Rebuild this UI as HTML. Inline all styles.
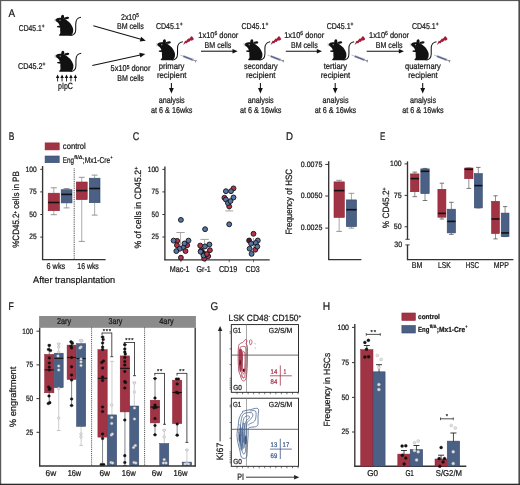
<!DOCTYPE html><html><head><meta charset="utf-8"><title>Figure</title><style>html,body{margin:0;padding:0;background:#fff;}svg{display:block;font-family:"Liberation Sans",sans-serif;will-change:transform;}text{stroke-width:0.24;text-rendering:geometricPrecision;}</style></head><body>
<svg width="520" height="485" viewBox="0 0 520 485">
<defs>
<g id="mouse"><path d="M0.4,4.9 C1.2,3.9 2.6,3.1 4.4,3.0 C6.5,2.9 8.5,3.5 9.9,4.3 C11,5 12,5.6 13,6.4 C14.8,7.6 16,9.2 16.7,10.7 C17.6,12.3 18.2,13.6 18.2,15.0 C18.3,16.5 18.1,17.8 17.6,18.7 C17.1,19.7 16.4,20.5 15.5,20.9 L4.6,20.9 C3.9,20.9 3.7,20.3 4.1,20.0 C4.7,19.5 5.2,18.9 5.3,18.1 C5.4,17.1 5.1,16.1 5.1,15.05 C5.1,14.2 5.2,13.5 5.3,12.9 L2.4,12.5 C1.8,12.3 1.8,11.3 2.4,11.2 L4.7,10.9 C4.4,10.2 4.1,9.5 3.8,8.9 C3.4,8.3 3.0,7.8 2.5,7.4 C1.9,7.0 1.2,6.6 0.9,6.1 C0.6,5.7 0.3,5.3 0.4,4.9 Z" fill="#111"/><path d="M6.2,3.9 C5.7,2.2 6.1,0.2 7.6,0.0 C9.1,0.0 9.4,1.8 8.9,3.9 Z" fill="#111"/><ellipse cx="11.5" cy="3.3" rx="2.6" ry="1.2" transform="rotate(-8 11.5 3.3)" fill="#111"/><circle cx="5.0" cy="5.4" r="0.6" fill="#bbb"/><path d="M1.2,5.0 L-0.8,4.0 M1.2,5.4 L-0.9,5.5 M1.3,5.8 L-0.5,6.8" stroke="#777" stroke-width="0.3"/><path d="M15.2,20.8 C17.5,20.7 19.3,19.8 20.3,17.5 C21.0,15.5 20.8,12.5 20.7,10 C20.6,7.5 21.0,5.4 22.2,4.2 C23.2,3.2 24.8,2.6 26.0,2.4" fill="none" stroke="#111" stroke-width="1.05"/></g>
<g id="irr"><path d="M26.3,5.9 L28.3,1.6 L29.3,2.0 L31.4,-0.7 L32.4,-0.3 L34.4,-2.9 L35.4,-2.7 L37.1,-0.2 L36.3,0.9 L34.7,1.6 L33.9,1.2 L32.3,3.0 L31.3,2.6 L29.8,4.3 L28.9,3.9 Z" fill="#a41d38"/><g transform="translate(23.4,15.9) rotate(21)"><line x1="0" y1="0" x2="3.4" y2="0" stroke="#9aa0ad" stroke-width="0.6"/><rect x="3.4" y="-0.8" width="9.8" height="1.6" fill="#4f5c8c" stroke="#9aa0ae" stroke-width="0.35"/><line x1="13.2" y1="0" x2="16.6" y2="0" stroke="#7d8494" stroke-width="0.9"/><line x1="16.8" y1="-1.3" x2="16.8" y2="1.3" stroke="#6f7686" stroke-width="0.9"/><line x1="13.3" y1="-1.3" x2="13.3" y2="1.3" stroke="#8d93a2" stroke-width="0.6"/></g></g>
</defs>
<rect x="0" y="0" width="520" height="485" fill="#fff"/>
<text x="8.4" y="16.6" font-size="11.2" textLength="6.6" lengthAdjust="spacingAndGlyphs" fill="#1a1a1a" stroke="#1a1a1a">A</text>
<text x="18.8" y="30.8" font-size="8.5" textLength="25.8" lengthAdjust="spacingAndGlyphs" fill="#1a1a1a" stroke="#1a1a1a">CD45.1<tspan dy="-3" font-size="6">+</tspan></text>
<text x="18" y="69.2" font-size="8.5" textLength="27.6" lengthAdjust="spacingAndGlyphs" fill="#1a1a1a" stroke="#1a1a1a">CD45.2<tspan dy="-3" font-size="6">+</tspan></text>
<use href="#mouse" x="55.0" y="14.8"/>
<use href="#mouse" x="55.2" y="50.8"/>
<line x1="57.6" y1="81.4" x2="57.6" y2="77.5" stroke="#111" stroke-width="0.9"/>
<path d="M57.6,74.4 L55.85,78 L59.35,78 Z" fill="#111"/>
<line x1="62.05" y1="81.4" x2="62.05" y2="77.5" stroke="#111" stroke-width="0.9"/>
<path d="M62.05,74.4 L60.3,78 L63.8,78 Z" fill="#111"/>
<line x1="66.5" y1="81.4" x2="66.5" y2="77.5" stroke="#111" stroke-width="0.9"/>
<path d="M66.5,74.4 L64.75,78 L68.25,78 Z" fill="#111"/>
<line x1="70.95" y1="81.4" x2="70.95" y2="77.5" stroke="#111" stroke-width="0.9"/>
<path d="M70.95,74.4 L69.2,78 L72.7,78 Z" fill="#111"/>
<line x1="75.4" y1="81.4" x2="75.4" y2="77.5" stroke="#111" stroke-width="0.9"/>
<path d="M75.4,74.4 L73.65,78 L77.15,78 Z" fill="#111"/>
<text x="58" y="89" font-size="9" textLength="14.9" lengthAdjust="spacingAndGlyphs" fill="#1a1a1a" stroke="#1a1a1a">pIpC</text>
<line x1="93.3" y1="25.8" x2="140.89" y2="39.31" stroke="#111" stroke-width="1.05"/>
<path d="M145.8,40.7 L139.76,41.48 L141.07,36.86 Z" fill="#111"/>
<line x1="92.3" y1="65.4" x2="140.31" y2="55.07" stroke="#111" stroke-width="1.05"/>
<path d="M145.3,54 L140.33,57.52 L139.32,52.83 Z" fill="#111"/>
<text x="121" y="20" font-size="8.5" textLength="17.8" lengthAdjust="spacingAndGlyphs" fill="#1a1a1a" stroke="#1a1a1a">2x10<tspan dy="-2.8" font-size="5.8">5</tspan></text>
<text x="117" y="29.2" font-size="8.5" textLength="26.7" lengthAdjust="spacingAndGlyphs" fill="#1a1a1a" stroke="#1a1a1a">BM cells</text>
<text x="110.6" y="71.4" font-size="8.5" textLength="39.8" lengthAdjust="spacingAndGlyphs" fill="#1a1a1a" stroke="#1a1a1a">5x10<tspan dy="-2.8" font-size="5.8">5</tspan><tspan dy="2.8"> donor</tspan></text>
<text x="117.2" y="80.8" font-size="8.5" textLength="26.7" lengthAdjust="spacingAndGlyphs" fill="#1a1a1a" stroke="#1a1a1a">BM cells</text>
<use href="#mouse" x="156.8" y="39.3"/>
<use href="#irr" x="156.8" y="39.1"/>
<text x="155.9" y="28.6" font-size="8.5" textLength="26.8" lengthAdjust="spacingAndGlyphs" fill="#1a1a1a" stroke="#1a1a1a">CD45.1<tspan dy="-3" font-size="6">+</tspan></text>
<text x="158.8" y="68.7" font-size="8.5" textLength="25.6" lengthAdjust="spacingAndGlyphs" fill="#1a1a1a" stroke="#1a1a1a">primary</text>
<text x="156.9" y="78.3" font-size="8.5" textLength="29.6" lengthAdjust="spacingAndGlyphs" fill="#1a1a1a" stroke="#1a1a1a">recipient</text>
<line x1="171.4" y1="83" x2="171.4" y2="88.5" stroke="#111" stroke-width="1.05"/>
<path d="M171.4,93.4 L169,88 L173.8,88 Z" fill="#111"/>
<text x="158.7" y="103.2" font-size="8.5" textLength="26" lengthAdjust="spacingAndGlyphs" fill="#1a1a1a" stroke="#1a1a1a">analysis</text>
<text x="151" y="112.5" font-size="8.5" textLength="41.4" lengthAdjust="spacingAndGlyphs" fill="#1a1a1a" stroke="#1a1a1a">at 6 &amp; 16wks</text>
<use href="#mouse" x="244.2" y="39.3"/>
<use href="#irr" x="244.2" y="39.1"/>
<text x="241.5" y="28.6" font-size="8.5" textLength="26.8" lengthAdjust="spacingAndGlyphs" fill="#1a1a1a" stroke="#1a1a1a">CD45.1<tspan dy="-3" font-size="6">+</tspan></text>
<text x="244.05" y="68.7" font-size="8.5" textLength="33.7" lengthAdjust="spacingAndGlyphs" fill="#1a1a1a" stroke="#1a1a1a">secondary</text>
<text x="245.9" y="78.3" font-size="8.5" textLength="29.6" lengthAdjust="spacingAndGlyphs" fill="#1a1a1a" stroke="#1a1a1a">recipient</text>
<line x1="260.4" y1="83" x2="260.4" y2="88.5" stroke="#111" stroke-width="1.05"/>
<path d="M260.4,93.4 L258,88 L262.8,88 Z" fill="#111"/>
<text x="247.7" y="103.2" font-size="8.5" textLength="26" lengthAdjust="spacingAndGlyphs" fill="#1a1a1a" stroke="#1a1a1a">analysis</text>
<text x="240" y="112.5" font-size="8.5" textLength="41.4" lengthAdjust="spacingAndGlyphs" fill="#1a1a1a" stroke="#1a1a1a">at 6 &amp; 16wks</text>
<use href="#mouse" x="328.2" y="39.3"/>
<use href="#irr" x="328.2" y="39.1"/>
<text x="326.7" y="28.6" font-size="8.5" textLength="26.8" lengthAdjust="spacingAndGlyphs" fill="#1a1a1a" stroke="#1a1a1a">CD45.1<tspan dy="-3" font-size="6">+</tspan></text>
<text x="323.65" y="68.7" font-size="8.5" textLength="23.5" lengthAdjust="spacingAndGlyphs" fill="#1a1a1a" stroke="#1a1a1a">tertiary</text>
<text x="320.7" y="78.3" font-size="8.5" textLength="29.6" lengthAdjust="spacingAndGlyphs" fill="#1a1a1a" stroke="#1a1a1a">recipient</text>
<line x1="335.2" y1="83" x2="335.2" y2="88.5" stroke="#111" stroke-width="1.05"/>
<path d="M335.2,93.4 L332.8,88 L337.6,88 Z" fill="#111"/>
<text x="322.5" y="103.2" font-size="8.5" textLength="26" lengthAdjust="spacingAndGlyphs" fill="#1a1a1a" stroke="#1a1a1a">analysis</text>
<text x="314.8" y="112.5" font-size="8.5" textLength="41.4" lengthAdjust="spacingAndGlyphs" fill="#1a1a1a" stroke="#1a1a1a">at 6 &amp; 16wks</text>
<use href="#mouse" x="410.5" y="39.3"/>
<use href="#irr" x="410.5" y="39.1"/>
<text x="411.9" y="28.6" font-size="8.5" textLength="26.8" lengthAdjust="spacingAndGlyphs" fill="#1a1a1a" stroke="#1a1a1a">CD45.1<tspan dy="-3" font-size="6">+</tspan></text>
<text x="405" y="68.7" font-size="8.5" textLength="35.8" lengthAdjust="spacingAndGlyphs" fill="#1a1a1a" stroke="#1a1a1a">quaternary</text>
<text x="408.2" y="78.3" font-size="8.5" textLength="29.6" lengthAdjust="spacingAndGlyphs" fill="#1a1a1a" stroke="#1a1a1a">recipient</text>
<line x1="422.7" y1="83" x2="422.7" y2="88.5" stroke="#111" stroke-width="1.05"/>
<path d="M422.7,93.4 L420.3,88 L425.1,88 Z" fill="#111"/>
<text x="410" y="103.2" font-size="8.5" textLength="26" lengthAdjust="spacingAndGlyphs" fill="#1a1a1a" stroke="#1a1a1a">analysis</text>
<text x="402.3" y="112.5" font-size="8.5" textLength="41.4" lengthAdjust="spacingAndGlyphs" fill="#1a1a1a" stroke="#1a1a1a">at 6 &amp; 16wks</text>
<text x="198.3" y="37.8" font-size="8.5" textLength="40" lengthAdjust="spacingAndGlyphs" fill="#1a1a1a" stroke="#1a1a1a">1x10<tspan dy="-2.8" font-size="5.8">6</tspan><tspan dy="2.8"> donor</tspan></text>
<text x="204.6" y="47.5" font-size="8.5" textLength="26.7" lengthAdjust="spacingAndGlyphs" fill="#1a1a1a" stroke="#1a1a1a">BM cells</text>
<line x1="201" y1="51.2" x2="233" y2="51.2" stroke="#111" stroke-width="1.05"/>
<path d="M237.7,51.2 L232.5,48.9 L232.5,53.5 Z" fill="#111"/>
<text x="284.2" y="37.8" font-size="8.5" textLength="40" lengthAdjust="spacingAndGlyphs" fill="#1a1a1a" stroke="#1a1a1a">1x10<tspan dy="-2.8" font-size="5.8">6</tspan><tspan dy="2.8"> donor</tspan></text>
<text x="291" y="47.5" font-size="8.5" textLength="26.7" lengthAdjust="spacingAndGlyphs" fill="#1a1a1a" stroke="#1a1a1a">BM cells</text>
<line x1="285.8" y1="51.2" x2="317.3" y2="51.2" stroke="#111" stroke-width="1.05"/>
<path d="M322,51.2 L316.8,48.9 L316.8,53.5 Z" fill="#111"/>
<text x="369" y="37.8" font-size="8.5" textLength="40" lengthAdjust="spacingAndGlyphs" fill="#1a1a1a" stroke="#1a1a1a">1x10<tspan dy="-2.8" font-size="5.8">6</tspan><tspan dy="2.8"> donor</tspan></text>
<text x="375.8" y="47.5" font-size="8.5" textLength="26.7" lengthAdjust="spacingAndGlyphs" fill="#1a1a1a" stroke="#1a1a1a">BM cells</text>
<line x1="366.7" y1="51.2" x2="399.3" y2="51.2" stroke="#111" stroke-width="1.05"/>
<path d="M404,51.2 L398.8,48.9 L398.8,53.5 Z" fill="#111"/>
<text x="8.7" y="139.5" font-size="11.2" textLength="5.6" lengthAdjust="spacingAndGlyphs" fill="#1a1a1a" stroke="#1a1a1a">B</text>
<rect x="45.1" y="142.9" width="14.1" height="7" fill="#a13444" stroke="#8c1f33" stroke-width="0.6"/>
<rect x="45.1" y="156" width="14.1" height="6.7" fill="#4a6084" stroke="#34496b" stroke-width="0.6"/>
<text x="62.8" y="148.8" font-size="8.5" textLength="23" lengthAdjust="spacingAndGlyphs" fill="#1a1a1a" stroke="#1a1a1a">control</text>
<text x="62.8" y="162.5" font-size="8.5" textLength="11.2" lengthAdjust="spacingAndGlyphs" fill="#1a1a1a" stroke="#1a1a1a">Eng</text>
<text x="74.3" y="159.2" font-size="5.27" textLength="8.3" lengthAdjust="spacingAndGlyphs" fill="#1a1a1a" stroke="#1a1a1a">fl/&#916;</text>
<text x="82.8" y="162.5" font-size="8.5" textLength="27.3" lengthAdjust="spacingAndGlyphs" fill="#1a1a1a" stroke="#1a1a1a">;Mx1-Cre</text>
<text x="110.4" y="159.2" font-size="5.27" textLength="2" lengthAdjust="spacingAndGlyphs" fill="#1a1a1a" stroke="#1a1a1a">+</text>
<line x1="42.6" y1="166" x2="42.6" y2="260.1" stroke="#333" stroke-width="1.35"/>
<line x1="42.1" y1="259.6" x2="105.6" y2="259.6" stroke="#333" stroke-width="1.35"/>
<line x1="40.3" y1="169.3" x2="42.6" y2="169.3" stroke="#333" stroke-width="1"/>
<text x="36.7" y="171.6" font-size="7.8" textLength="11.1" lengthAdjust="spacingAndGlyphs" text-anchor="end" fill="#1a1a1a" stroke="#1a1a1a">100</text>
<line x1="40.3" y1="191.9" x2="42.6" y2="191.9" stroke="#333" stroke-width="1"/>
<text x="36.7" y="194.2" font-size="7.8" textLength="7.4" lengthAdjust="spacingAndGlyphs" text-anchor="end" fill="#1a1a1a" stroke="#1a1a1a">75</text>
<line x1="40.3" y1="214.5" x2="42.6" y2="214.5" stroke="#333" stroke-width="1"/>
<text x="36.7" y="216.8" font-size="7.8" textLength="7.4" lengthAdjust="spacingAndGlyphs" text-anchor="end" fill="#1a1a1a" stroke="#1a1a1a">50</text>
<line x1="40.3" y1="237.1" x2="42.6" y2="237.1" stroke="#333" stroke-width="1"/>
<text x="36.7" y="239.4" font-size="7.8" textLength="7.4" lengthAdjust="spacingAndGlyphs" text-anchor="end" fill="#1a1a1a" stroke="#1a1a1a">25</text>
<line x1="74.2" y1="168.4" x2="74.2" y2="259.6" stroke="#222" stroke-width="0.9" stroke-dasharray="0.9 0.9"/>
<line x1="53.8" y1="187.8" x2="53.8" y2="193.2" stroke="#7c7c7c" stroke-width="0.65"/>
<line x1="53.8" y1="210.7" x2="53.8" y2="214.7" stroke="#7c7c7c" stroke-width="0.65"/>
<line x1="50.72" y1="187.8" x2="56.88" y2="187.8" stroke="#7c7c7c" stroke-width="0.8"/>
<line x1="50.72" y1="214.7" x2="56.88" y2="214.7" stroke="#7c7c7c" stroke-width="0.8"/>
<rect x="48.2" y="193.2" width="11.2" height="17.5" fill="#a13444" stroke="#8c1f33" stroke-width="0.6"/>
<line x1="48.2" y1="202.5" x2="59.4" y2="202.5" stroke="#111" stroke-width="1.6"/>
<line x1="66.6" y1="188.5" x2="66.6" y2="189.7" stroke="#7c7c7c" stroke-width="0.65"/>
<line x1="66.6" y1="202.9" x2="66.6" y2="207.9" stroke="#7c7c7c" stroke-width="0.65"/>
<line x1="63.63" y1="188.5" x2="69.57" y2="188.5" stroke="#7c7c7c" stroke-width="0.8"/>
<line x1="63.63" y1="207.9" x2="69.57" y2="207.9" stroke="#7c7c7c" stroke-width="0.8"/>
<rect x="61.2" y="189.7" width="10.8" height="13.2" fill="#4a6084" stroke="#34496b" stroke-width="0.6"/>
<line x1="61.2" y1="194.4" x2="72" y2="194.4" stroke="#111" stroke-width="1.6"/>
<line x1="81.75" y1="177.3" x2="81.75" y2="182" stroke="#7c7c7c" stroke-width="0.65"/>
<line x1="81.75" y1="199.6" x2="81.75" y2="241.4" stroke="#7c7c7c" stroke-width="0.65"/>
<line x1="78.75" y1="177.3" x2="84.75" y2="177.3" stroke="#7c7c7c" stroke-width="0.8"/>
<line x1="78.75" y1="241.4" x2="84.75" y2="241.4" stroke="#7c7c7c" stroke-width="0.8"/>
<rect x="76.3" y="182" width="10.9" height="17.6" fill="#a13444" stroke="#8c1f33" stroke-width="0.6"/>
<line x1="76.3" y1="190.6" x2="87.2" y2="190.6" stroke="#111" stroke-width="1.6"/>
<line x1="94.65" y1="175.1" x2="94.65" y2="178.2" stroke="#7c7c7c" stroke-width="0.65"/>
<line x1="94.65" y1="202.7" x2="94.65" y2="215.1" stroke="#7c7c7c" stroke-width="0.65"/>
<line x1="91.71" y1="175.1" x2="97.59" y2="175.1" stroke="#7c7c7c" stroke-width="0.8"/>
<line x1="91.71" y1="215.1" x2="97.59" y2="215.1" stroke="#7c7c7c" stroke-width="0.8"/>
<rect x="89.3" y="178.2" width="10.7" height="24.5" fill="#4a6084" stroke="#34496b" stroke-width="0.6"/>
<line x1="89.3" y1="188.5" x2="100" y2="188.5" stroke="#111" stroke-width="1.6"/>
<text x="46.5" y="269.2" font-size="8.5" textLength="18.7" lengthAdjust="spacingAndGlyphs" fill="#1a1a1a" stroke="#1a1a1a">6 wks</text>
<text x="77.3" y="269.2" font-size="8.5" textLength="21.5" lengthAdjust="spacingAndGlyphs" fill="#1a1a1a" stroke="#1a1a1a">16 wks</text>
<text x="33.1" y="282.7" font-size="9.3" textLength="82.1" lengthAdjust="spacingAndGlyphs" fill="#1a1a1a" stroke="#1a1a1a">After transplantation</text>
<text transform="translate(19.3,209.5) rotate(-90)" x="0" y="0" font-size="9.2" text-anchor="middle" textLength="76.6" lengthAdjust="spacingAndGlyphs" fill="#1a1a1a" stroke="#1a1a1a">%CD45.2<tspan dy="-2.8" font-size="5">+</tspan><tspan dy="2.8"> cells in PB</tspan></text>
<text x="132.7" y="139.5" font-size="11.2" textLength="6.5" lengthAdjust="spacingAndGlyphs" fill="#1a1a1a" stroke="#1a1a1a">C</text>
<line x1="164.9" y1="166.5" x2="164.9" y2="260.3" stroke="#333" stroke-width="1.35"/>
<line x1="164.4" y1="259.8" x2="269.7" y2="259.8" stroke="#333" stroke-width="1.35"/>
<line x1="162.4" y1="169.4" x2="164.9" y2="169.4" stroke="#333" stroke-width="1"/>
<text x="158.8" y="171.7" font-size="7.8" textLength="11.1" lengthAdjust="spacingAndGlyphs" text-anchor="end" fill="#1a1a1a" stroke="#1a1a1a">100</text>
<line x1="162.4" y1="191.9" x2="164.9" y2="191.9" stroke="#333" stroke-width="1"/>
<text x="158.8" y="194.2" font-size="7.8" textLength="7.2" lengthAdjust="spacingAndGlyphs" text-anchor="end" fill="#1a1a1a" stroke="#1a1a1a">75</text>
<line x1="162.4" y1="214.5" x2="164.9" y2="214.5" stroke="#333" stroke-width="1"/>
<text x="158.8" y="216.8" font-size="7.8" textLength="7.2" lengthAdjust="spacingAndGlyphs" text-anchor="end" fill="#1a1a1a" stroke="#1a1a1a">50</text>
<line x1="162.4" y1="237" x2="164.9" y2="237" stroke="#333" stroke-width="1"/>
<text x="158.8" y="239.3" font-size="7.8" textLength="7.2" lengthAdjust="spacingAndGlyphs" text-anchor="end" fill="#1a1a1a" stroke="#1a1a1a">25</text>
<line x1="180.9" y1="259.8" x2="180.9" y2="262.2" stroke="#333" stroke-width="0.7"/>
<line x1="205.1" y1="259.8" x2="205.1" y2="262.2" stroke="#333" stroke-width="0.7"/>
<line x1="229.2" y1="259.8" x2="229.2" y2="262.2" stroke="#333" stroke-width="0.7"/>
<line x1="253.5" y1="259.8" x2="253.5" y2="262.2" stroke="#333" stroke-width="0.7"/>
<text transform="translate(141.2,207.7) rotate(-90)" x="0" y="0" font-size="9.2" text-anchor="middle" textLength="81.8" lengthAdjust="spacingAndGlyphs" fill="#1a1a1a" stroke="#1a1a1a">% of cells in CD45.2<tspan dy="-3" font-size="5.5">+</tspan></text>
<text x="169.7" y="271.7" font-size="8.5" textLength="19.9" lengthAdjust="spacingAndGlyphs" fill="#1a1a1a" stroke="#1a1a1a">Mac-1</text>
<text x="196.5" y="271.7" font-size="8.5" textLength="14.3" lengthAdjust="spacingAndGlyphs" fill="#1a1a1a" stroke="#1a1a1a">Gr-1</text>
<text x="218.9" y="271.7" font-size="8.5" textLength="18.5" lengthAdjust="spacingAndGlyphs" fill="#1a1a1a" stroke="#1a1a1a">CD19</text>
<text x="245.5" y="271.7" font-size="8.5" textLength="14.3" lengthAdjust="spacingAndGlyphs" fill="#1a1a1a" stroke="#1a1a1a">CD3</text>
<line x1="180.55" y1="232.5" x2="180.55" y2="246" stroke="#9a9a9a" stroke-width="0.8"/>
<line x1="176.35" y1="232.5" x2="184.75" y2="232.5" stroke="#9a9a9a" stroke-width="0.9"/>
<line x1="204.6" y1="239.4" x2="204.6" y2="250" stroke="#9a9a9a" stroke-width="0.8"/>
<line x1="200.4" y1="239.4" x2="208.8" y2="239.4" stroke="#9a9a9a" stroke-width="0.9"/>
<line x1="229.2" y1="199" x2="229.2" y2="210.9" stroke="#9a9a9a" stroke-width="0.8"/>
<line x1="225.3" y1="210.9" x2="233.1" y2="210.9" stroke="#9a9a9a" stroke-width="0.9"/>
<line x1="253.5" y1="238" x2="253.5" y2="247" stroke="#9a9a9a" stroke-width="0.8"/>
<circle cx="177.2" cy="240.9" r="2.45" fill="#b3344c" stroke="#111" stroke-width="0.9"/>
<circle cx="180.9" cy="219.9" r="2.45" fill="#5674a6" stroke="#111" stroke-width="0.9"/>
<circle cx="173.6" cy="240.6" r="2.45" fill="#5674a6" stroke="#111" stroke-width="0.9"/>
<circle cx="187.2" cy="245.2" r="2.45" fill="#b3344c" stroke="#111" stroke-width="0.9"/>
<circle cx="188.5" cy="240.6" r="2.45" fill="#5674a6" stroke="#111" stroke-width="0.9"/>
<circle cx="176.9" cy="245.2" r="2.45" fill="#b3344c" stroke="#111" stroke-width="0.9"/>
<circle cx="184.5" cy="243.5" r="2.45" fill="#5674a6" stroke="#111" stroke-width="0.9"/>
<circle cx="183.2" cy="247.8" r="2.45" fill="#5674a6" stroke="#111" stroke-width="0.9"/>
<circle cx="179.6" cy="248.8" r="2.45" fill="#5674a6" stroke="#111" stroke-width="0.9"/>
<circle cx="176.3" cy="251.1" r="2.45" fill="#5674a6" stroke="#111" stroke-width="0.9"/>
<circle cx="185.5" cy="251.1" r="2.45" fill="#b3344c" stroke="#111" stroke-width="0.9"/>
<circle cx="180.9" cy="257.7" r="2.45" fill="#b3344c" stroke="#111" stroke-width="0.9"/>
<circle cx="205.1" cy="229.2" r="2.45" fill="#5674a6" stroke="#111" stroke-width="0.9"/>
<circle cx="204.2" cy="258.6" r="2.45" fill="#b3344c" stroke="#111" stroke-width="0.9"/>
<circle cx="203" cy="253" r="2.45" fill="#5a1a2c" stroke="#111" stroke-width="0.9"/>
<circle cx="208.2" cy="256.2" r="2.45" fill="#b3344c" stroke="#111" stroke-width="0.9"/>
<circle cx="203.5" cy="255.5" r="2.45" fill="#5674a6" stroke="#111" stroke-width="0.9"/>
<circle cx="206.9" cy="254" r="2.45" fill="#b3344c" stroke="#111" stroke-width="0.9"/>
<circle cx="201.2" cy="250.6" r="2.45" fill="#5a1a2c" stroke="#111" stroke-width="0.9"/>
<circle cx="200.6" cy="251.7" r="2.45" fill="#5674a6" stroke="#111" stroke-width="0.9"/>
<circle cx="209.9" cy="250.2" r="2.45" fill="#b3344c" stroke="#111" stroke-width="0.9"/>
<circle cx="200.2" cy="245.6" r="2.45" fill="#b3344c" stroke="#111" stroke-width="0.9"/>
<circle cx="205" cy="246.4" r="2.45" fill="#5674a6" stroke="#111" stroke-width="0.9"/>
<circle cx="209.4" cy="244.5" r="2.45" fill="#5674a6" stroke="#111" stroke-width="0.9"/>
<circle cx="233.5" cy="188.4" r="2.45" fill="#b3344c" stroke="#111" stroke-width="0.9"/>
<circle cx="225.9" cy="191.2" r="2.45" fill="#5674a6" stroke="#111" stroke-width="0.9"/>
<circle cx="231" cy="191.2" r="2.45" fill="#5674a6" stroke="#111" stroke-width="0.9"/>
<circle cx="224.4" cy="197.8" r="2.45" fill="#b3344c" stroke="#111" stroke-width="0.9"/>
<circle cx="233.5" cy="197.5" r="2.45" fill="#5674a6" stroke="#111" stroke-width="0.9"/>
<circle cx="225.9" cy="199.6" r="2.45" fill="#5674a6" stroke="#111" stroke-width="0.9"/>
<circle cx="229.2" cy="206.4" r="2.45" fill="#b3344c" stroke="#111" stroke-width="0.9"/>
<circle cx="227.9" cy="203.1" r="2.45" fill="#5674a6" stroke="#111" stroke-width="0.9"/>
<circle cx="230.5" cy="201.1" r="2.45" fill="#5674a6" stroke="#111" stroke-width="0.9"/>
<circle cx="229.2" cy="224.3" r="2.45" fill="#5674a6" stroke="#111" stroke-width="0.9"/>
<circle cx="253.5" cy="233.8" r="2.45" fill="#b3344c" stroke="#111" stroke-width="0.9"/>
<circle cx="249.1" cy="240.5" r="2.45" fill="#5a1a2c" stroke="#111" stroke-width="0.9"/>
<circle cx="257.8" cy="240.5" r="2.45" fill="#5674a6" stroke="#111" stroke-width="0.9"/>
<circle cx="255.3" cy="249.7" r="2.45" fill="#b3344c" stroke="#111" stroke-width="0.9"/>
<circle cx="251.1" cy="243.6" r="2.45" fill="#5674a6" stroke="#111" stroke-width="0.9"/>
<circle cx="255.8" cy="243" r="2.45" fill="#5674a6" stroke="#111" stroke-width="0.9"/>
<circle cx="257.3" cy="246.6" r="2.45" fill="#5674a6" stroke="#111" stroke-width="0.9"/>
<circle cx="249.6" cy="248.7" r="2.45" fill="#5674a6" stroke="#111" stroke-width="0.9"/>
<circle cx="251.6" cy="253.9" r="2.45" fill="#5674a6" stroke="#111" stroke-width="0.9"/>
<text x="286" y="140.1" font-size="11.2" textLength="7" lengthAdjust="spacingAndGlyphs" fill="#1a1a1a" stroke="#1a1a1a">D</text>
<line x1="328.7" y1="161.3" x2="328.7" y2="260.1" stroke="#333" stroke-width="1.35"/>
<line x1="328.2" y1="259.6" x2="361.4" y2="259.6" stroke="#333" stroke-width="1.35"/>
<line x1="325.3" y1="164.4" x2="328.7" y2="164.4" stroke="#333" stroke-width="1"/>
<text x="322.4" y="166.7" font-size="7.8" textLength="21.6" lengthAdjust="spacingAndGlyphs" text-anchor="end" fill="#1a1a1a" stroke="#1a1a1a">0.0075</text>
<line x1="325.3" y1="196" x2="328.7" y2="196" stroke="#333" stroke-width="1"/>
<text x="322.4" y="198.3" font-size="7.8" textLength="21.6" lengthAdjust="spacingAndGlyphs" text-anchor="end" fill="#1a1a1a" stroke="#1a1a1a">0.0050</text>
<line x1="325.3" y1="228.1" x2="328.7" y2="228.1" stroke="#333" stroke-width="1"/>
<text x="322.4" y="230.4" font-size="7.8" textLength="21.6" lengthAdjust="spacingAndGlyphs" text-anchor="end" fill="#1a1a1a" stroke="#1a1a1a">0.0025</text>
<line x1="339.15" y1="180.3" x2="339.15" y2="181.9" stroke="#7c7c7c" stroke-width="0.65"/>
<line x1="339.15" y1="217.4" x2="339.15" y2="231.4" stroke="#7c7c7c" stroke-width="0.65"/>
<line x1="336.32" y1="180.3" x2="341.98" y2="180.3" stroke="#7c7c7c" stroke-width="0.8"/>
<line x1="336.32" y1="231.4" x2="341.98" y2="231.4" stroke="#7c7c7c" stroke-width="0.8"/>
<rect x="334" y="181.9" width="10.3" height="35.5" fill="#a13444" stroke="#8c1f33" stroke-width="0.6"/>
<line x1="334" y1="190.6" x2="344.3" y2="190.6" stroke="#111" stroke-width="1.6"/>
<line x1="351.45" y1="193.3" x2="351.45" y2="199.9" stroke="#7c7c7c" stroke-width="0.65"/>
<line x1="351.45" y1="226.6" x2="351.45" y2="228.1" stroke="#7c7c7c" stroke-width="0.65"/>
<line x1="348.62" y1="193.3" x2="354.28" y2="193.3" stroke="#7c7c7c" stroke-width="0.8"/>
<line x1="348.62" y1="228.1" x2="354.28" y2="228.1" stroke="#7c7c7c" stroke-width="0.8"/>
<rect x="346.3" y="199.9" width="10.3" height="26.7" fill="#4a6084" stroke="#34496b" stroke-width="0.6"/>
<line x1="346.3" y1="209.7" x2="356.6" y2="209.7" stroke="#111" stroke-width="1.6"/>
<text transform="translate(292.4,201.8) rotate(-90)" x="0" y="0" font-size="9.2" text-anchor="middle" textLength="65.5" lengthAdjust="spacingAndGlyphs" fill="#1a1a1a" stroke="#1a1a1a">Frequency of HSC</text>
<text x="380.1" y="139.8" font-size="11.2" textLength="5.4" lengthAdjust="spacingAndGlyphs" fill="#1a1a1a" stroke="#1a1a1a">E</text>
<line x1="407.5" y1="161.4" x2="407.5" y2="239.3" stroke="#333" stroke-width="1.35"/>
<line x1="405.4" y1="239.3" x2="409.7" y2="239.3" stroke="#333" stroke-width="0.9"/>
<line x1="405.4" y1="244.9" x2="409.7" y2="244.9" stroke="#333" stroke-width="0.9"/>
<line x1="407.5" y1="244.9" x2="407.5" y2="260.1" stroke="#333" stroke-width="1.35"/>
<line x1="407" y1="259.6" x2="513.4" y2="259.6" stroke="#333" stroke-width="1.35"/>
<line x1="404.6" y1="163.9" x2="407.5" y2="163.9" stroke="#333" stroke-width="1"/>
<text x="401.6" y="166.2" font-size="7.8" textLength="11.5" lengthAdjust="spacingAndGlyphs" text-anchor="end" fill="#1a1a1a" stroke="#1a1a1a">100</text>
<line x1="404.6" y1="195.4" x2="407.5" y2="195.4" stroke="#333" stroke-width="1"/>
<text x="401.6" y="197.7" font-size="7.8" textLength="7.9" lengthAdjust="spacingAndGlyphs" text-anchor="end" fill="#1a1a1a" stroke="#1a1a1a">75</text>
<line x1="404.6" y1="226.8" x2="407.5" y2="226.8" stroke="#333" stroke-width="1"/>
<text x="401.6" y="229.1" font-size="7.8" textLength="7.9" lengthAdjust="spacingAndGlyphs" text-anchor="end" fill="#1a1a1a" stroke="#1a1a1a">50</text>
<text x="402.2" y="247" font-size="7.8" textLength="7.9" lengthAdjust="spacingAndGlyphs" text-anchor="end" fill="#1a1a1a" stroke="#1a1a1a">30</text>
<line x1="414.8" y1="172.1" x2="414.8" y2="173.9" stroke="#555" stroke-width="0.65"/>
<line x1="414.8" y1="191.7" x2="414.8" y2="196.7" stroke="#555" stroke-width="0.65"/>
<line x1="412.49" y1="172.1" x2="417.11" y2="172.1" stroke="#555" stroke-width="0.8"/>
<line x1="412.49" y1="196.7" x2="417.11" y2="196.7" stroke="#555" stroke-width="0.8"/>
<rect x="410.6" y="173.9" width="8.4" height="17.8" fill="#a13444" stroke="#8c1f33" stroke-width="0.6"/>
<line x1="410.6" y1="178.6" x2="419" y2="178.6" stroke="#111" stroke-width="1.6"/>
<line x1="425" y1="168.4" x2="425" y2="168.9" stroke="#555" stroke-width="0.65"/>
<line x1="425" y1="193.6" x2="425" y2="200.5" stroke="#555" stroke-width="0.65"/>
<line x1="422.69" y1="168.4" x2="427.31" y2="168.4" stroke="#555" stroke-width="0.8"/>
<line x1="422.69" y1="200.5" x2="427.31" y2="200.5" stroke="#555" stroke-width="0.8"/>
<rect x="420.8" y="168.9" width="8.4" height="24.7" fill="#4a6084" stroke="#34496b" stroke-width="0.6"/>
<line x1="420.8" y1="171.3" x2="429.2" y2="171.3" stroke="#111" stroke-width="1.6"/>
<line x1="441.9" y1="183.2" x2="441.9" y2="189.3" stroke="#555" stroke-width="0.65"/>
<line x1="441.9" y1="217.2" x2="441.9" y2="219" stroke="#555" stroke-width="0.65"/>
<line x1="439.7" y1="183.2" x2="444.1" y2="183.2" stroke="#555" stroke-width="0.8"/>
<line x1="439.7" y1="219" x2="444.1" y2="219" stroke="#555" stroke-width="0.8"/>
<rect x="437.9" y="189.3" width="8" height="27.9" fill="#a13444" stroke="#8c1f33" stroke-width="0.6"/>
<line x1="437.9" y1="213.4" x2="445.9" y2="213.4" stroke="#111" stroke-width="1.6"/>
<line x1="451.35" y1="202.3" x2="451.35" y2="209.2" stroke="#555" stroke-width="0.65"/>
<line x1="451.35" y1="232.9" x2="451.35" y2="234.4" stroke="#555" stroke-width="0.65"/>
<line x1="449.07" y1="202.3" x2="453.63" y2="202.3" stroke="#555" stroke-width="0.8"/>
<line x1="449.07" y1="234.4" x2="453.63" y2="234.4" stroke="#555" stroke-width="0.8"/>
<rect x="447.2" y="209.2" width="8.3" height="23.7" fill="#4a6084" stroke="#34496b" stroke-width="0.6"/>
<line x1="447.2" y1="221.4" x2="455.5" y2="221.4" stroke="#111" stroke-width="1.6"/>
<line x1="468.85" y1="168" x2="468.85" y2="168" stroke="#555" stroke-width="0.65"/>
<line x1="468.85" y1="178.7" x2="468.85" y2="188.4" stroke="#555" stroke-width="0.65"/>
<line x1="466.57" y1="168" x2="471.13" y2="168" stroke="#555" stroke-width="0.8"/>
<line x1="466.57" y1="188.4" x2="471.13" y2="188.4" stroke="#555" stroke-width="0.8"/>
<rect x="464.7" y="168" width="8.3" height="10.7" fill="#a13444" stroke="#8c1f33" stroke-width="0.6"/>
<line x1="464.7" y1="169.3" x2="473" y2="169.3" stroke="#111" stroke-width="1.6"/>
<line x1="478.3" y1="167.4" x2="478.3" y2="173.6" stroke="#555" stroke-width="0.65"/>
<line x1="478.3" y1="207.9" x2="478.3" y2="207.9" stroke="#555" stroke-width="0.65"/>
<line x1="476.1" y1="167.4" x2="480.5" y2="167.4" stroke="#555" stroke-width="0.8"/>
<line x1="476.1" y1="207.9" x2="480.5" y2="207.9" stroke="#555" stroke-width="0.8"/>
<rect x="474.3" y="173.6" width="8" height="34.3" fill="#4a6084" stroke="#34496b" stroke-width="0.6"/>
<line x1="474.3" y1="185.6" x2="482.3" y2="185.6" stroke="#111" stroke-width="1.6"/>
<line x1="495.5" y1="195.8" x2="495.5" y2="201.4" stroke="#555" stroke-width="0.65"/>
<line x1="495.5" y1="233.5" x2="495.5" y2="238.9" stroke="#555" stroke-width="0.65"/>
<line x1="493.36" y1="195.8" x2="497.64" y2="195.8" stroke="#555" stroke-width="0.8"/>
<line x1="493.36" y1="238.9" x2="497.64" y2="238.9" stroke="#555" stroke-width="0.8"/>
<rect x="491.6" y="201.4" width="7.8" height="32.1" fill="#a13444" stroke="#8c1f33" stroke-width="0.6"/>
<line x1="491.6" y1="219" x2="499.4" y2="219" stroke="#111" stroke-width="1.6"/>
<line x1="505.1" y1="206.6" x2="505.1" y2="213.1" stroke="#555" stroke-width="0.65"/>
<line x1="505.1" y1="236.6" x2="505.1" y2="236.6" stroke="#555" stroke-width="0.65"/>
<line x1="502.96" y1="206.6" x2="507.25" y2="206.6" stroke="#555" stroke-width="0.8"/>
<line x1="502.96" y1="236.6" x2="507.25" y2="236.6" stroke="#555" stroke-width="0.8"/>
<rect x="501.2" y="213.1" width="7.8" height="23.5" fill="#4a6084" stroke="#34496b" stroke-width="0.6"/>
<line x1="501.2" y1="232.9" x2="509" y2="232.9" stroke="#111" stroke-width="1.6"/>
<text x="411.8" y="267.8" font-size="8.5" textLength="10.6" lengthAdjust="spacingAndGlyphs" fill="#1a1a1a" stroke="#1a1a1a">BM</text>
<text x="438" y="267.8" font-size="8.5" textLength="12.6" lengthAdjust="spacingAndGlyphs" fill="#1a1a1a" stroke="#1a1a1a">LSK</text>
<text x="465.7" y="267.8" font-size="8.5" textLength="13.5" lengthAdjust="spacingAndGlyphs" fill="#1a1a1a" stroke="#1a1a1a">HSC</text>
<text x="493.7" y="267.8" font-size="8.5" textLength="15.1" lengthAdjust="spacingAndGlyphs" fill="#1a1a1a" stroke="#1a1a1a">MPP</text>
<text transform="translate(388.6,207.9) rotate(-90)" x="0" y="0" font-size="9.2" text-anchor="middle" textLength="40.8" lengthAdjust="spacingAndGlyphs" fill="#1a1a1a" stroke="#1a1a1a">% CD45.2<tspan dy="-3" font-size="5.5">+</tspan></text>
<text x="8.5" y="310" font-size="11.2" textLength="5.3" lengthAdjust="spacingAndGlyphs" fill="#1a1a1a" stroke="#1a1a1a">F</text>
<rect x="39.1" y="316" width="156.8" height="11.8" fill="#8b8b8b" stroke="none" stroke-width="0.5"/>
<text x="56.9" y="324.2" font-size="8.6" textLength="14.2" lengthAdjust="spacingAndGlyphs" fill="#1a1a1a" stroke="#1a1a1a">2ary</text>
<text x="108.5" y="324.2" font-size="8.6" textLength="13.8" lengthAdjust="spacingAndGlyphs" fill="#1a1a1a" stroke="#1a1a1a">3ary</text>
<text x="159.2" y="324.2" font-size="8.6" textLength="14.4" lengthAdjust="spacingAndGlyphs" fill="#1a1a1a" stroke="#1a1a1a">4ary</text>
<line x1="36.5" y1="331.2" x2="39.7" y2="331.2" stroke="#333" stroke-width="1"/>
<text x="33.1" y="333.5" font-size="7.8" textLength="10.8" lengthAdjust="spacingAndGlyphs" text-anchor="end" fill="#1a1a1a" stroke="#1a1a1a">100</text>
<line x1="36.5" y1="364.9" x2="39.7" y2="364.9" stroke="#333" stroke-width="1"/>
<text x="33.1" y="367.2" font-size="7.8" textLength="7.2" lengthAdjust="spacingAndGlyphs" text-anchor="end" fill="#1a1a1a" stroke="#1a1a1a">75</text>
<line x1="36.5" y1="398.6" x2="39.7" y2="398.6" stroke="#333" stroke-width="1"/>
<text x="33.1" y="400.9" font-size="7.8" textLength="7.2" lengthAdjust="spacingAndGlyphs" text-anchor="end" fill="#1a1a1a" stroke="#1a1a1a">50</text>
<line x1="36.5" y1="432.3" x2="39.7" y2="432.3" stroke="#333" stroke-width="1"/>
<text x="33.1" y="434.6" font-size="7.8" textLength="7.2" lengthAdjust="spacingAndGlyphs" text-anchor="end" fill="#1a1a1a" stroke="#1a1a1a">25</text>
<line x1="91.6" y1="327.6" x2="91.6" y2="466" stroke="#222" stroke-width="0.9" stroke-dasharray="0.9 1.0"/>
<line x1="144.6" y1="327.6" x2="144.6" y2="466" stroke="#222" stroke-width="0.9" stroke-dasharray="0.9 1.0"/>
<text transform="translate(15.6,396.9) rotate(-90)" x="0" y="0" font-size="9.2" text-anchor="middle" textLength="60.6" lengthAdjust="spacingAndGlyphs" fill="#1a1a1a" stroke="#1a1a1a">% engraftment</text>
<text x="45.6" y="475.8" font-size="8.6" textLength="10.6" lengthAdjust="spacingAndGlyphs" fill="#1a1a1a" stroke="#1a1a1a">6w</text>
<text x="67.7" y="475.8" font-size="8.6" textLength="13.5" lengthAdjust="spacingAndGlyphs" fill="#1a1a1a" stroke="#1a1a1a">16w</text>
<text x="99.5" y="475.8" font-size="8.6" textLength="10.6" lengthAdjust="spacingAndGlyphs" fill="#1a1a1a" stroke="#1a1a1a">6w</text>
<text x="121.7" y="475.8" font-size="8.6" textLength="14" lengthAdjust="spacingAndGlyphs" fill="#1a1a1a" stroke="#1a1a1a">16w</text>
<text x="151.7" y="475.8" font-size="8.6" textLength="10.4" lengthAdjust="spacingAndGlyphs" fill="#1a1a1a" stroke="#1a1a1a">6w</text>
<text x="173.5" y="475.8" font-size="8.6" textLength="14" lengthAdjust="spacingAndGlyphs" fill="#1a1a1a" stroke="#1a1a1a">16w</text>
<line x1="49.25" y1="345.1" x2="49.25" y2="403.5" stroke="#333" stroke-width="0.6"/>
<line x1="47.45" y1="345.1" x2="51.05" y2="345.1" stroke="#333" stroke-width="0.8"/>
<line x1="47.45" y1="403.5" x2="51.05" y2="403.5" stroke="#333" stroke-width="0.8"/>
<rect x="44.6" y="354.4" width="9.3" height="38.4" fill="#a13444" stroke="#8c1f33" stroke-width="0.5"/>
<line x1="44.6" y1="369.9" x2="53.9" y2="369.9" stroke="#111" stroke-width="1.1"/>
<circle cx="49.3" cy="345.4" r="1.35" fill="#111" stroke="#111" stroke-width="0.4"/>
<circle cx="48.5" cy="349.5" r="1.35" fill="#111" stroke="#111" stroke-width="0.4"/>
<circle cx="50.5" cy="350.5" r="1.35" fill="#111" stroke="#111" stroke-width="0.4"/>
<circle cx="49.3" cy="358" r="1.35" fill="#111" stroke="#111" stroke-width="0.4"/>
<circle cx="49.3" cy="363" r="1.35" fill="#111" stroke="#111" stroke-width="0.4"/>
<circle cx="49.3" cy="367" r="1.35" fill="#111" stroke="#111" stroke-width="0.4"/>
<circle cx="49.3" cy="370" r="1.35" fill="#111" stroke="#111" stroke-width="0.4"/>
<circle cx="48.6" cy="387" r="1.35" fill="#111" stroke="#111" stroke-width="0.4"/>
<circle cx="50" cy="388.5" r="1.35" fill="#111" stroke="#111" stroke-width="0.4"/>
<circle cx="49.3" cy="389.5" r="1.35" fill="#111" stroke="#111" stroke-width="0.4"/>
<circle cx="49" cy="396" r="1.35" fill="#111" stroke="#111" stroke-width="0.4"/>
<circle cx="48.3" cy="403.5" r="1.35" fill="#111" stroke="#111" stroke-width="0.4"/>
<circle cx="49.8" cy="402.7" r="1.35" fill="#111" stroke="#111" stroke-width="0.4"/>
<line x1="58.7" y1="343.6" x2="58.7" y2="430.5" stroke="#b8b8b8" stroke-width="0.7"/>
<line x1="56.9" y1="343.6" x2="60.5" y2="343.6" stroke="#b8b8b8" stroke-width="0.8"/>
<line x1="56.9" y1="430.5" x2="60.5" y2="430.5" stroke="#b8b8b8" stroke-width="0.8"/>
<rect x="54.2" y="353.2" width="9" height="34.5" fill="#4a6084" stroke="#34496b" stroke-width="0.5"/>
<line x1="54.2" y1="358.3" x2="63.2" y2="358.3" stroke="#111" stroke-width="1.1"/>
<circle cx="58.7" cy="344" r="1.35" fill="#e4e4e4" stroke="#a8a8a8" stroke-width="0.4"/>
<circle cx="58.7" cy="347" r="1.35" fill="#e4e4e4" stroke="#a8a8a8" stroke-width="0.4"/>
<circle cx="58.7" cy="352" r="1.35" fill="#e4e4e4" stroke="#a8a8a8" stroke-width="0.4"/>
<circle cx="58" cy="356" r="1.35" fill="#e4e4e4" stroke="#a8a8a8" stroke-width="0.4"/>
<circle cx="58.7" cy="366" r="1.35" fill="#e4e4e4" stroke="#a8a8a8" stroke-width="0.4"/>
<circle cx="58.7" cy="370" r="1.35" fill="#e4e4e4" stroke="#a8a8a8" stroke-width="0.4"/>
<circle cx="58.7" cy="388.5" r="1.35" fill="#e4e4e4" stroke="#a8a8a8" stroke-width="0.4"/>
<circle cx="58.7" cy="418" r="1.35" fill="#e4e4e4" stroke="#a8a8a8" stroke-width="0.4"/>
<line x1="71.6" y1="341.8" x2="71.6" y2="405.5" stroke="#333" stroke-width="0.6"/>
<line x1="69.8" y1="341.8" x2="73.4" y2="341.8" stroke="#333" stroke-width="0.8"/>
<line x1="69.8" y1="405.5" x2="73.4" y2="405.5" stroke="#333" stroke-width="0.8"/>
<rect x="67.1" y="345.1" width="9" height="34.4" fill="#a13444" stroke="#8c1f33" stroke-width="0.5"/>
<line x1="67.1" y1="357.5" x2="76.1" y2="357.5" stroke="#111" stroke-width="1.1"/>
<circle cx="71" cy="341.8" r="1.35" fill="#111" stroke="#111" stroke-width="0.4"/>
<circle cx="72.3" cy="343.3" r="1.35" fill="#111" stroke="#111" stroke-width="0.4"/>
<circle cx="71" cy="346.3" r="1.35" fill="#111" stroke="#111" stroke-width="0.4"/>
<circle cx="71.6" cy="348" r="1.35" fill="#111" stroke="#111" stroke-width="0.4"/>
<circle cx="71.6" cy="357.5" r="1.35" fill="#111" stroke="#111" stroke-width="0.4"/>
<circle cx="71.6" cy="366.8" r="1.35" fill="#111" stroke="#111" stroke-width="0.4"/>
<circle cx="71.6" cy="375" r="1.35" fill="#111" stroke="#111" stroke-width="0.4"/>
<circle cx="71.6" cy="380" r="1.35" fill="#111" stroke="#111" stroke-width="0.4"/>
<circle cx="71.6" cy="399" r="1.35" fill="#111" stroke="#111" stroke-width="0.4"/>
<circle cx="71.6" cy="405.5" r="1.35" fill="#111" stroke="#111" stroke-width="0.4"/>
<line x1="81.1" y1="340.5" x2="81.1" y2="445.4" stroke="#b8b8b8" stroke-width="0.7"/>
<line x1="79.3" y1="340.5" x2="82.9" y2="340.5" stroke="#b8b8b8" stroke-width="0.8"/>
<line x1="79.3" y1="445.4" x2="82.9" y2="445.4" stroke="#b8b8b8" stroke-width="0.8"/>
<rect x="76.5" y="343.6" width="9.2" height="82.8" fill="#4a6084" stroke="#34496b" stroke-width="0.5"/>
<line x1="76.5" y1="358.6" x2="85.7" y2="358.6" stroke="#111" stroke-width="1.1"/>
<circle cx="80.5" cy="340.5" r="1.35" fill="#e4e4e4" stroke="#a8a8a8" stroke-width="0.4"/>
<circle cx="82" cy="340.8" r="1.35" fill="#e4e4e4" stroke="#a8a8a8" stroke-width="0.4"/>
<circle cx="81" cy="347" r="1.35" fill="#e4e4e4" stroke="#a8a8a8" stroke-width="0.4"/>
<circle cx="80" cy="348" r="1.35" fill="#e4e4e4" stroke="#a8a8a8" stroke-width="0.4"/>
<circle cx="81" cy="359" r="1.35" fill="#e4e4e4" stroke="#a8a8a8" stroke-width="0.4"/>
<circle cx="81" cy="362" r="1.35" fill="#e4e4e4" stroke="#a8a8a8" stroke-width="0.4"/>
<circle cx="81" cy="365.5" r="1.35" fill="#e4e4e4" stroke="#a8a8a8" stroke-width="0.4"/>
<circle cx="81" cy="434" r="1.35" fill="#e4e4e4" stroke="#a8a8a8" stroke-width="0.4"/>
<circle cx="81" cy="437" r="1.35" fill="#e4e4e4" stroke="#a8a8a8" stroke-width="0.4"/>
<line x1="102.55" y1="337" x2="102.55" y2="465.5" stroke="#333" stroke-width="0.6"/>
<line x1="100.75" y1="337" x2="104.35" y2="337" stroke="#333" stroke-width="0.8"/>
<line x1="100.75" y1="465.5" x2="104.35" y2="465.5" stroke="#333" stroke-width="0.8"/>
<rect x="97.9" y="349.7" width="9.3" height="87.4" fill="#a13444" stroke="#8c1f33" stroke-width="0.5"/>
<line x1="97.9" y1="378.3" x2="107.2" y2="378.3" stroke="#111" stroke-width="1.1"/>
<circle cx="102.6" cy="337" r="1.35" fill="#111" stroke="#111" stroke-width="0.4"/>
<circle cx="103.2" cy="339.5" r="1.35" fill="#111" stroke="#111" stroke-width="0.4"/>
<circle cx="102.6" cy="343" r="1.35" fill="#111" stroke="#111" stroke-width="0.4"/>
<circle cx="102.6" cy="347" r="1.35" fill="#111" stroke="#111" stroke-width="0.4"/>
<circle cx="102.6" cy="349.5" r="1.35" fill="#111" stroke="#111" stroke-width="0.4"/>
<circle cx="103.5" cy="361" r="1.35" fill="#111" stroke="#111" stroke-width="0.4"/>
<circle cx="101.8" cy="362.5" r="1.35" fill="#111" stroke="#111" stroke-width="0.4"/>
<circle cx="102.6" cy="368" r="1.35" fill="#111" stroke="#111" stroke-width="0.4"/>
<circle cx="102.6" cy="377" r="1.35" fill="#111" stroke="#111" stroke-width="0.4"/>
<circle cx="102.6" cy="380.5" r="1.35" fill="#111" stroke="#111" stroke-width="0.4"/>
<circle cx="102.6" cy="407" r="1.35" fill="#111" stroke="#111" stroke-width="0.4"/>
<circle cx="102.6" cy="411.5" r="1.35" fill="#111" stroke="#111" stroke-width="0.4"/>
<circle cx="102.6" cy="434" r="1.35" fill="#111" stroke="#111" stroke-width="0.4"/>
<circle cx="102.6" cy="438.5" r="1.35" fill="#111" stroke="#111" stroke-width="0.4"/>
<circle cx="101.3" cy="464.6" r="1.35" fill="#111" stroke="#111" stroke-width="0.4"/>
<circle cx="103.7" cy="464.6" r="1.35" fill="#111" stroke="#111" stroke-width="0.4"/>
<line x1="111.95" y1="361.3" x2="111.95" y2="465.5" stroke="#b8b8b8" stroke-width="0.7"/>
<line x1="110.15" y1="361.3" x2="113.75" y2="361.3" stroke="#b8b8b8" stroke-width="0.8"/>
<line x1="110.15" y1="465.5" x2="113.75" y2="465.5" stroke="#b8b8b8" stroke-width="0.8"/>
<rect x="107.2" y="414.9" width="9.5" height="50.6" fill="#4a6084" stroke="#34496b" stroke-width="0.5"/>
<circle cx="111.7" cy="405" r="1.35" fill="#e4e4e4" stroke="#a8a8a8" stroke-width="0.4"/>
<circle cx="111.7" cy="417.5" r="1.35" fill="#e4e4e4" stroke="#a8a8a8" stroke-width="0.4"/>
<circle cx="111.7" cy="423.5" r="1.35" fill="#e4e4e4" stroke="#a8a8a8" stroke-width="0.4"/>
<circle cx="111.3" cy="435" r="1.35" fill="#e4e4e4" stroke="#a8a8a8" stroke-width="0.4"/>
<circle cx="112.3" cy="434" r="1.35" fill="#e4e4e4" stroke="#a8a8a8" stroke-width="0.4"/>
<circle cx="111" cy="462.5" r="1.35" fill="#e4e4e4" stroke="#a8a8a8" stroke-width="0.4"/>
<circle cx="112.6" cy="463" r="1.35" fill="#e4e4e4" stroke="#a8a8a8" stroke-width="0.4"/>
<line x1="124.95" y1="344.7" x2="124.95" y2="465.5" stroke="#333" stroke-width="0.6"/>
<line x1="123.15" y1="344.7" x2="126.75" y2="344.7" stroke="#333" stroke-width="0.8"/>
<line x1="123.15" y1="465.5" x2="126.75" y2="465.5" stroke="#333" stroke-width="0.8"/>
<rect x="120.2" y="355.9" width="9.5" height="56" fill="#a13444" stroke="#8c1f33" stroke-width="0.5"/>
<line x1="120.2" y1="368.3" x2="129.7" y2="368.3" stroke="#111" stroke-width="1.1"/>
<circle cx="124.8" cy="344.7" r="1.35" fill="#111" stroke="#111" stroke-width="0.4"/>
<circle cx="124.8" cy="349" r="1.35" fill="#111" stroke="#111" stroke-width="0.4"/>
<circle cx="124.8" cy="352" r="1.35" fill="#111" stroke="#111" stroke-width="0.4"/>
<circle cx="125.3" cy="354" r="1.35" fill="#111" stroke="#111" stroke-width="0.4"/>
<circle cx="124.8" cy="357.5" r="1.35" fill="#111" stroke="#111" stroke-width="0.4"/>
<circle cx="124.8" cy="361.5" r="1.35" fill="#111" stroke="#111" stroke-width="0.4"/>
<circle cx="124.8" cy="365" r="1.35" fill="#111" stroke="#111" stroke-width="0.4"/>
<circle cx="124.8" cy="371.5" r="1.35" fill="#111" stroke="#111" stroke-width="0.4"/>
<circle cx="124.8" cy="381.5" r="1.35" fill="#111" stroke="#111" stroke-width="0.4"/>
<circle cx="125.5" cy="382.5" r="1.35" fill="#111" stroke="#111" stroke-width="0.4"/>
<circle cx="124.8" cy="388" r="1.35" fill="#111" stroke="#111" stroke-width="0.4"/>
<circle cx="124.8" cy="420" r="1.35" fill="#111" stroke="#111" stroke-width="0.4"/>
<circle cx="124.8" cy="455.7" r="1.35" fill="#111" stroke="#111" stroke-width="0.4"/>
<circle cx="124.8" cy="462.5" r="1.35" fill="#111" stroke="#111" stroke-width="0.4"/>
<line x1="134.25" y1="382.2" x2="134.25" y2="465.5" stroke="#b8b8b8" stroke-width="0.7"/>
<line x1="132.45" y1="382.2" x2="136.05" y2="382.2" stroke="#b8b8b8" stroke-width="0.8"/>
<line x1="132.45" y1="465.5" x2="136.05" y2="465.5" stroke="#b8b8b8" stroke-width="0.8"/>
<rect x="129.7" y="406" width="9.1" height="59.5" fill="#4a6084" stroke="#34496b" stroke-width="0.5"/>
<circle cx="134.5" cy="383" r="1.35" fill="#e4e4e4" stroke="#a8a8a8" stroke-width="0.4"/>
<circle cx="134.5" cy="392" r="1.35" fill="#e4e4e4" stroke="#a8a8a8" stroke-width="0.4"/>
<circle cx="134.5" cy="408" r="1.35" fill="#e4e4e4" stroke="#a8a8a8" stroke-width="0.4"/>
<circle cx="134.5" cy="419" r="1.35" fill="#e4e4e4" stroke="#a8a8a8" stroke-width="0.4"/>
<circle cx="135.3" cy="445.5" r="1.35" fill="#e4e4e4" stroke="#a8a8a8" stroke-width="0.4"/>
<circle cx="133.6" cy="447.5" r="1.35" fill="#e4e4e4" stroke="#a8a8a8" stroke-width="0.4"/>
<circle cx="134" cy="462.5" r="1.35" fill="#e4e4e4" stroke="#a8a8a8" stroke-width="0.4"/>
<circle cx="135.8" cy="463" r="1.35" fill="#e4e4e4" stroke="#a8a8a8" stroke-width="0.4"/>
<line x1="155" y1="378.5" x2="155" y2="434.8" stroke="#333" stroke-width="0.6"/>
<line x1="153.2" y1="378.5" x2="156.8" y2="378.5" stroke="#333" stroke-width="0.8"/>
<line x1="153.2" y1="434.8" x2="156.8" y2="434.8" stroke="#333" stroke-width="0.8"/>
<rect x="150.3" y="400.2" width="9.4" height="22.7" fill="#a13444" stroke="#8c1f33" stroke-width="0.5"/>
<line x1="150.3" y1="407" x2="159.7" y2="407" stroke="#111" stroke-width="1.1"/>
<circle cx="155" cy="378.5" r="1.35" fill="#111" stroke="#111" stroke-width="0.4"/>
<circle cx="155" cy="398" r="1.35" fill="#111" stroke="#111" stroke-width="0.4"/>
<circle cx="155" cy="405" r="1.35" fill="#111" stroke="#111" stroke-width="0.4"/>
<circle cx="156" cy="407.3" r="1.35" fill="#111" stroke="#111" stroke-width="0.4"/>
<circle cx="154" cy="407.8" r="1.35" fill="#111" stroke="#111" stroke-width="0.4"/>
<circle cx="155" cy="418.5" r="1.35" fill="#111" stroke="#111" stroke-width="0.4"/>
<circle cx="155" cy="425.5" r="1.35" fill="#111" stroke="#111" stroke-width="0.4"/>
<circle cx="155" cy="434.8" r="1.35" fill="#111" stroke="#111" stroke-width="0.4"/>
<line x1="164.25" y1="430" x2="164.25" y2="465.5" stroke="#b8b8b8" stroke-width="0.7"/>
<line x1="162.45" y1="430" x2="166.05" y2="430" stroke="#b8b8b8" stroke-width="0.8"/>
<line x1="162.45" y1="465.5" x2="166.05" y2="465.5" stroke="#b8b8b8" stroke-width="0.8"/>
<rect x="159.7" y="443.5" width="9.1" height="22" fill="#4a6084" stroke="#34496b" stroke-width="0.5"/>
<circle cx="164.2" cy="430.3" r="1.35" fill="#e4e4e4" stroke="#a8a8a8" stroke-width="0.4"/>
<circle cx="164.2" cy="437" r="1.35" fill="#e4e4e4" stroke="#a8a8a8" stroke-width="0.4"/>
<circle cx="164.2" cy="459.6" r="1.35" fill="#e4e4e4" stroke="#a8a8a8" stroke-width="0.4"/>
<circle cx="163.4" cy="463" r="1.35" fill="#e4e4e4" stroke="#a8a8a8" stroke-width="0.4"/>
<circle cx="166" cy="463" r="1.35" fill="#e4e4e4" stroke="#a8a8a8" stroke-width="0.4"/>
<line x1="177.15" y1="379" x2="177.15" y2="435.2" stroke="#333" stroke-width="0.6"/>
<line x1="175.35" y1="379" x2="178.95" y2="379" stroke="#333" stroke-width="0.8"/>
<line x1="175.35" y1="435.2" x2="178.95" y2="435.2" stroke="#333" stroke-width="0.8"/>
<rect x="172.5" y="380.2" width="9.3" height="43.4" fill="#a13444" stroke="#8c1f33" stroke-width="0.5"/>
<line x1="172.5" y1="392.5" x2="181.8" y2="392.5" stroke="#111" stroke-width="1.1"/>
<circle cx="176.5" cy="379" r="1.35" fill="#111" stroke="#111" stroke-width="0.4"/>
<circle cx="178.5" cy="379" r="1.35" fill="#111" stroke="#111" stroke-width="0.4"/>
<circle cx="177.2" cy="384" r="1.35" fill="#111" stroke="#111" stroke-width="0.4"/>
<circle cx="176.5" cy="392.3" r="1.35" fill="#111" stroke="#111" stroke-width="0.4"/>
<circle cx="178" cy="393" r="1.35" fill="#111" stroke="#111" stroke-width="0.4"/>
<circle cx="177.2" cy="424" r="1.35" fill="#111" stroke="#111" stroke-width="0.4"/>
<circle cx="177.2" cy="435.2" r="1.35" fill="#111" stroke="#111" stroke-width="0.4"/>
<line x1="186.9" y1="449.8" x2="186.9" y2="465.5" stroke="#b8b8b8" stroke-width="0.7"/>
<line x1="185.1" y1="449.8" x2="188.7" y2="449.8" stroke="#b8b8b8" stroke-width="0.8"/>
<line x1="185.1" y1="465.5" x2="188.7" y2="465.5" stroke="#b8b8b8" stroke-width="0.8"/>
<rect x="182.2" y="462.1" width="9.4" height="3.4" fill="#4a6084" stroke="#34496b" stroke-width="0.5"/>
<circle cx="186.9" cy="450" r="1.35" fill="#e4e4e4" stroke="#a8a8a8" stroke-width="0.4"/>
<circle cx="186.9" cy="463.5" r="1.35" fill="#e4e4e4" stroke="#a8a8a8" stroke-width="0.4"/>
<circle cx="185" cy="464" r="1.35" fill="#e4e4e4" stroke="#a8a8a8" stroke-width="0.4"/>
<circle cx="188.6" cy="464" r="1.35" fill="#e4e4e4" stroke="#a8a8a8" stroke-width="0.4"/>
<line x1="102" y1="333" x2="111.8" y2="333" stroke="#222" stroke-width="0.8"/>
<line x1="102" y1="332.6" x2="102" y2="335.2" stroke="#222" stroke-width="0.8"/>
<line x1="111.8" y1="332.6" x2="111.8" y2="356.7" stroke="#222" stroke-width="0.8"/>
<line x1="110.3" y1="356.7" x2="113.3" y2="356.7" stroke="#222" stroke-width="0.8"/>
<text x="103.8" y="332.7" font-size="5.8" text-anchor="middle" fill="#333" stroke="#333">*</text>
<text x="106.9" y="332.7" font-size="5.8" text-anchor="middle" fill="#333" stroke="#333">*</text>
<text x="110" y="332.7" font-size="5.8" text-anchor="middle" fill="#333" stroke="#333">*</text>
<line x1="124.3" y1="342.5" x2="134.5" y2="342.5" stroke="#222" stroke-width="0.8"/>
<line x1="124.3" y1="342.1" x2="124.3" y2="344.7" stroke="#222" stroke-width="0.8"/>
<line x1="134.5" y1="342.1" x2="134.5" y2="375.7" stroke="#222" stroke-width="0.8"/>
<line x1="133" y1="375.7" x2="136" y2="375.7" stroke="#222" stroke-width="0.8"/>
<text x="126.3" y="342.1" font-size="5.8" text-anchor="middle" fill="#333" stroke="#333">*</text>
<text x="129.4" y="342.1" font-size="5.8" text-anchor="middle" fill="#333" stroke="#333">*</text>
<text x="132.5" y="342.1" font-size="5.8" text-anchor="middle" fill="#333" stroke="#333">*</text>
<line x1="154.8" y1="373.4" x2="164.5" y2="373.4" stroke="#222" stroke-width="0.8"/>
<line x1="154.8" y1="373" x2="154.8" y2="375.6" stroke="#222" stroke-width="0.8"/>
<line x1="164.5" y1="373" x2="164.5" y2="424.3" stroke="#222" stroke-width="0.8"/>
<line x1="163" y1="424.3" x2="166" y2="424.3" stroke="#222" stroke-width="0.8"/>
<text x="158.1" y="373.1" font-size="5.8" text-anchor="middle" fill="#333" stroke="#333">*</text>
<text x="161.2" y="373.1" font-size="5.8" text-anchor="middle" fill="#333" stroke="#333">*</text>
<line x1="177" y1="373.4" x2="186.9" y2="373.4" stroke="#222" stroke-width="0.8"/>
<line x1="177" y1="373" x2="177" y2="375.6" stroke="#222" stroke-width="0.8"/>
<line x1="186.9" y1="373" x2="186.9" y2="442.4" stroke="#222" stroke-width="0.8"/>
<line x1="185.4" y1="442.4" x2="188.4" y2="442.4" stroke="#222" stroke-width="0.8"/>
<text x="180.4" y="373.1" font-size="5.8" text-anchor="middle" fill="#333" stroke="#333">*</text>
<text x="183.5" y="373.1" font-size="5.8" text-anchor="middle" fill="#333" stroke="#333">*</text>
<line x1="39.7" y1="327.8" x2="39.7" y2="466.5" stroke="#333" stroke-width="1.35"/>
<line x1="195.2" y1="327.8" x2="195.2" y2="466.5" stroke="#333" stroke-width="1.35"/>
<line x1="39.2" y1="466" x2="195.7" y2="466" stroke="#333" stroke-width="1.35"/>
<text x="210.6" y="310.4" font-size="11.2" textLength="7.7" lengthAdjust="spacingAndGlyphs" fill="#1a1a1a" stroke="#1a1a1a">G</text>
<text x="228.5" y="321" font-size="9" textLength="72.8" lengthAdjust="spacingAndGlyphs" fill="#1a1a1a" stroke="#1a1a1a">LSK CD48<tspan dy="-2.9" font-size="5">-</tspan><tspan dy="2.9"> CD150</tspan><tspan dy="-2.9" font-size="5">+</tspan></text>
<rect x="231.3" y="324.6" width="67.2" height="67.7" fill="none" stroke="#1a1a1a" stroke-width="0.9"/>
<line x1="246.5" y1="324.6" x2="246.5" y2="392.3" stroke="#8a8a8a" stroke-width="0.75"/>
<line x1="231.3" y1="355.1" x2="298.5" y2="355.1" stroke="#3a3a3a" stroke-width="0.75"/>
<text x="233" y="333.3" font-size="7.3" textLength="8.3" lengthAdjust="spacingAndGlyphs" fill="#1a1a1a" stroke="#1a1a1a">G1</text>
<text x="268.8" y="333.4" font-size="7.3" textLength="23.4" lengthAdjust="spacingAndGlyphs" fill="#1a1a1a" stroke="#1a1a1a">G2/S/M</text>
<text x="233.2" y="390.2" font-size="7.3" textLength="8.6" lengthAdjust="spacingAndGlyphs" fill="#1a1a1a" stroke="#1a1a1a">G0</text>
<line x1="237" y1="392.3" x2="237" y2="394.3" stroke="#222" stroke-width="0.6"/>
<line x1="242.55" y1="392.3" x2="242.55" y2="394.3" stroke="#222" stroke-width="0.6"/>
<line x1="248.1" y1="392.3" x2="248.1" y2="394.3" stroke="#222" stroke-width="0.6"/>
<line x1="253.65" y1="392.3" x2="253.65" y2="394.3" stroke="#222" stroke-width="0.6"/>
<line x1="259.2" y1="392.3" x2="259.2" y2="394.3" stroke="#222" stroke-width="0.6"/>
<line x1="264.75" y1="392.3" x2="264.75" y2="394.3" stroke="#222" stroke-width="0.6"/>
<line x1="270.3" y1="392.3" x2="270.3" y2="394.3" stroke="#222" stroke-width="0.6"/>
<line x1="275.85" y1="392.3" x2="275.85" y2="394.3" stroke="#222" stroke-width="0.6"/>
<line x1="281.4" y1="392.3" x2="281.4" y2="394.3" stroke="#222" stroke-width="0.6"/>
<line x1="286.95" y1="392.3" x2="286.95" y2="394.3" stroke="#222" stroke-width="0.6"/>
<line x1="292.5" y1="392.3" x2="292.5" y2="394.3" stroke="#222" stroke-width="0.6"/>
<line x1="298.05" y1="392.3" x2="298.05" y2="394.3" stroke="#222" stroke-width="0.6"/>
<line x1="229.6" y1="331.6" x2="231.3" y2="331.6" stroke="#222" stroke-width="0.6"/>
<line x1="229.6" y1="333.2" x2="231.3" y2="333.2" stroke="#222" stroke-width="0.6"/>
<line x1="229.6" y1="348.9" x2="231.3" y2="348.9" stroke="#222" stroke-width="0.6"/>
<line x1="229.6" y1="364.6" x2="231.3" y2="364.6" stroke="#222" stroke-width="0.6"/>
<line x1="229.6" y1="378.2" x2="231.3" y2="378.2" stroke="#222" stroke-width="0.6"/>
<line x1="229.6" y1="380.2" x2="231.3" y2="380.2" stroke="#222" stroke-width="0.6"/>
<line x1="229.6" y1="382.2" x2="231.3" y2="382.2" stroke="#222" stroke-width="0.6"/>
<line x1="229.6" y1="384" x2="231.3" y2="384" stroke="#222" stroke-width="0.6"/>
<line x1="229.6" y1="385.8" x2="231.3" y2="385.8" stroke="#222" stroke-width="0.6"/>
<line x1="229.6" y1="387.6" x2="231.3" y2="387.6" stroke="#222" stroke-width="0.6"/>
<line x1="229.6" y1="389.2" x2="231.3" y2="389.2" stroke="#222" stroke-width="0.6"/>
<path d="M238.8,350 C239.5,348.3 241.6,348.4 242.3,350.5 C242.8,355 242.6,362 242.2,368 C241.8,371.8 240.6,372.8 239.6,371.2 C238.8,366 238.4,358 238.8,350 Z" fill="#9b2238" opacity="0.85"/>
<ellipse cx="239.9" cy="362.5" rx="0.9" ry="2.8" fill="#3a0c18"/>
<ellipse cx="243.9" cy="370.2" rx="1.1" ry="1.8" fill="#2a0810"/>
<path d="M238.7,345.3 C239.5,343.5 241,343 242.3,342.7 C243.5,342.3 244.2,340.5 245.2,339.6 C246.2,339.2 247.3,340.5 246.8,341.8 C246.4,342.8 245.8,343.4 246.2,344.2 C247.2,345 247.6,346 247.5,347.5 C247.5,352 247.5,358 247.3,365 C247.1,370 246.8,374 246.2,377 C245.8,379.5 245,381 243.5,381 C242.2,381 241.2,379 240.4,375.5 C239.8,374 239,373 238.7,370 C238.2,365 238,358 238.2,352 C238.3,349 238.4,347 238.7,345.3 Z" fill="none" stroke="#a8324a" stroke-width="0.8" stroke-linejoin="round"/>
<path d="M240.2,347.2 C241.6,346.3 243.6,346.1 245.3,346.6 C246,349 245.9,353 245.8,357 C245.7,364 245.6,371 244.9,376 C244.4,378.6 243.1,378.8 242.4,376.6 C241.4,373.5 240.3,369 239.8,364 C239.5,358 239.6,351 240.2,347.2 Z" fill="none" stroke="#a8324a" stroke-width="0.7" stroke-linejoin="round"/>
<path d="M242.8,351.5 C243.9,351 245,352 245,355 C245.1,361 244.8,368 244.2,373 C243.8,374.6 243,374.4 242.7,372.6 C242.3,367 242.3,358 242.8,351.5 Z" fill="none" stroke="#a8324a" stroke-width="0.7" stroke-linejoin="round"/>
<path d="M240.6,352 C241.2,351.2 241.9,352 241.9,354 C241.9,358 241.6,363 241.2,366 M240.8,374.5 C241.6,376.8 242.8,378.2 244,377.6" fill="none" stroke="#a8324a" stroke-width="0.6" stroke-linejoin="round"/>
<path d="M249.5,340.5 C250.5,339.4 252,339.8 252,341.5 C252,343.5 251.2,345.2 250.2,344.8 C249.6,344.2 249.8,342.8 249.4,342 Z" fill="none" stroke="#a8324a" stroke-width="0.7" stroke-linejoin="round"/>
<path d="M254.9,343.4 L255.4,344.2 M255.0,347.6 L255.4,348.4" fill="none" stroke="#a8324a" stroke-width="0.7" stroke-linejoin="round"/>
<line x1="280.3" y1="365.4" x2="280.3" y2="385.7" stroke="#a8324a" stroke-width="0.8"/>
<line x1="269.9" y1="375.8" x2="291.8" y2="375.8" stroke="#a8324a" stroke-width="0.8"/>
<text x="270.6" y="374" font-size="6.8" textLength="6.6" lengthAdjust="spacingAndGlyphs" fill="#a8324a" stroke="#a8324a">14</text>
<text x="283.4" y="374" font-size="6.8" textLength="2.8" lengthAdjust="spacingAndGlyphs" fill="#a8324a" stroke="#a8324a">1</text>
<text x="270.6" y="384.4" font-size="6.8" textLength="6.6" lengthAdjust="spacingAndGlyphs" fill="#a8324a" stroke="#a8324a">84</text>
<rect x="231.3" y="398.2" width="67.2" height="68.1" fill="none" stroke="#1a1a1a" stroke-width="0.9"/>
<line x1="246.5" y1="398.2" x2="246.5" y2="466.3" stroke="#8a8a8a" stroke-width="0.75"/>
<line x1="231.3" y1="429.3" x2="298.5" y2="429.3" stroke="#3a3a3a" stroke-width="0.75"/>
<text x="233" y="406.9" font-size="7.3" textLength="8.3" lengthAdjust="spacingAndGlyphs" fill="#1a1a1a" stroke="#1a1a1a">G1</text>
<text x="268.8" y="407" font-size="7.3" textLength="23.4" lengthAdjust="spacingAndGlyphs" fill="#1a1a1a" stroke="#1a1a1a">G2/S/M</text>
<text x="233.2" y="464.2" font-size="7.3" textLength="8.6" lengthAdjust="spacingAndGlyphs" fill="#1a1a1a" stroke="#1a1a1a">G0</text>
<line x1="237" y1="466.3" x2="237" y2="468.3" stroke="#222" stroke-width="0.6"/>
<line x1="242.55" y1="466.3" x2="242.55" y2="468.3" stroke="#222" stroke-width="0.6"/>
<line x1="248.1" y1="466.3" x2="248.1" y2="468.3" stroke="#222" stroke-width="0.6"/>
<line x1="253.65" y1="466.3" x2="253.65" y2="468.3" stroke="#222" stroke-width="0.6"/>
<line x1="259.2" y1="466.3" x2="259.2" y2="468.3" stroke="#222" stroke-width="0.6"/>
<line x1="264.75" y1="466.3" x2="264.75" y2="468.3" stroke="#222" stroke-width="0.6"/>
<line x1="270.3" y1="466.3" x2="270.3" y2="468.3" stroke="#222" stroke-width="0.6"/>
<line x1="275.85" y1="466.3" x2="275.85" y2="468.3" stroke="#222" stroke-width="0.6"/>
<line x1="281.4" y1="466.3" x2="281.4" y2="468.3" stroke="#222" stroke-width="0.6"/>
<line x1="286.95" y1="466.3" x2="286.95" y2="468.3" stroke="#222" stroke-width="0.6"/>
<line x1="292.5" y1="466.3" x2="292.5" y2="468.3" stroke="#222" stroke-width="0.6"/>
<line x1="298.05" y1="466.3" x2="298.05" y2="468.3" stroke="#222" stroke-width="0.6"/>
<line x1="229.6" y1="405.2" x2="231.3" y2="405.2" stroke="#222" stroke-width="0.6"/>
<line x1="229.6" y1="406.8" x2="231.3" y2="406.8" stroke="#222" stroke-width="0.6"/>
<line x1="229.6" y1="422.5" x2="231.3" y2="422.5" stroke="#222" stroke-width="0.6"/>
<line x1="229.6" y1="438.2" x2="231.3" y2="438.2" stroke="#222" stroke-width="0.6"/>
<line x1="229.6" y1="451.8" x2="231.3" y2="451.8" stroke="#222" stroke-width="0.6"/>
<line x1="229.6" y1="453.8" x2="231.3" y2="453.8" stroke="#222" stroke-width="0.6"/>
<line x1="229.6" y1="455.8" x2="231.3" y2="455.8" stroke="#222" stroke-width="0.6"/>
<line x1="229.6" y1="457.6" x2="231.3" y2="457.6" stroke="#222" stroke-width="0.6"/>
<line x1="229.6" y1="459.4" x2="231.3" y2="459.4" stroke="#222" stroke-width="0.6"/>
<line x1="229.6" y1="461.2" x2="231.3" y2="461.2" stroke="#222" stroke-width="0.6"/>
<line x1="229.6" y1="462.8" x2="231.3" y2="462.8" stroke="#222" stroke-width="0.6"/>
<path d="M238.2,430 C239,427.5 241,427 242.5,428 C244,431 244.2,438 243.8,445 C243.4,449.5 242.2,451.5 240.8,450.5 C239.2,447.5 238.2,440 238.2,430 Z" fill="#3e5b88" opacity="0.55"/>
<ellipse cx="245.6" cy="440" rx="1.1" ry="4.5" fill="#233a5e" opacity="0.85"/>
<ellipse cx="239.6" cy="438" rx="0.9" ry="4.0" fill="#2c4670" opacity="0.8"/>
<path d="M242.5,411.4 C245,410.6 248,410 250.6,409.6 C253,409 255.2,408.2 256.8,408.3 C258.4,408.5 258.8,409.5 258.6,410.6 C258.3,413 258,415.5 258,417.6 C258,420 258.2,422.5 258,424.4 C257.4,426.2 256,426.8 254.3,426.9 C252.5,427 250.8,427.2 249.3,427.5 C248.5,427.8 248.2,428.2 248.1,428.8 C248.1,431 248.1,433 248.1,435 C247.9,438 247.7,441.5 247.5,444.8 C247.3,449 247.2,453 246.9,456 C246.4,457.8 245.4,458.6 244.4,458.5 C243,458.3 242,458 241.3,457.2 C240.6,455.5 240.4,453 240,451 C239.2,448 238,444.5 237.6,441.1 C237.2,438.6 236.9,436 237,433.7 C237.2,431 237.8,428.5 238.2,426.3 C238.4,424.2 238.5,422 238.8,420.1 C239.1,418.6 239.5,417.4 240,416.4 C240.7,414.6 241.5,413.2 242.5,412.7 Z" fill="none" stroke="#3e5b88" stroke-width="0.75" stroke-linejoin="round"/>
<path d="M244.2,413.6 C246.5,412.6 249.6,412.2 251.8,412.8 C253.2,413.6 253.2,416 252,417.6 C250.6,419.4 248.6,420.4 247.4,422.2 C246.6,424 246.4,427 246.3,431 C246.2,437 246,444 245.6,450 C245.2,453.4 244.3,454.6 243.4,454 C242.2,452.6 241.6,449 241,445 C240.3,440 240.2,434 240.4,428 C240.6,423 241.2,419 242.2,416 C242.8,414.8 243.4,414 244.2,413.6 Z" fill="none" stroke="#3e5b88" stroke-width="0.7" stroke-linejoin="round"/>
<path d="M245.2,416.5 C246.6,415.8 248.4,415.6 249.4,416.4 C249.8,417.6 248.6,418.8 247.2,419.8 C245.8,421 245.2,423 245,426 C244.8,432 244.8,440 244.4,446 C244.1,448.6 243.5,449 243,447.5 C242.2,443 242,436 242.3,429 C242.5,424 243.2,420 244.2,417.6 Z" fill="none" stroke="#3e5b88" stroke-width="0.7" stroke-linejoin="round"/>
<path d="M243.4,423 C244,422.2 244.6,423 244.5,425.5 C244.3,431 244.2,437 243.8,441.5 C243.5,443 243.1,442.5 243,440.5 C242.8,435 242.9,428 243.4,423 Z" fill="none" stroke="#3e5b88" stroke-width="0.7" stroke-linejoin="round"/>
<path d="M249.8,411 C251.8,410.6 254.5,410.4 255.6,411.2 C256.4,412.8 256.2,416.5 255.4,419.6 C254.8,421.6 253,422.6 251,423.2 C249.6,423.6 248.6,424.4 248.2,425.6" fill="none" stroke="#3e5b88" stroke-width="0.7" stroke-linejoin="round"/>
<path d="M238.8,432 C239.4,436 240.2,441 241.4,446 M239.9,424 C240.3,428 240.6,432 241.4,436" fill="none" stroke="#3e5b88" stroke-width="0.6" stroke-linejoin="round"/>
<line x1="280.3" y1="438.7" x2="280.3" y2="459" stroke="#3e5b88" stroke-width="0.8"/>
<line x1="269.9" y1="449.1" x2="291.8" y2="449.1" stroke="#3e5b88" stroke-width="0.8"/>
<text x="270.6" y="447.3" font-size="6.8" textLength="6.6" lengthAdjust="spacingAndGlyphs" fill="#3e5b88" stroke="#3e5b88">13</text>
<text x="282.6" y="447.3" font-size="6.8" textLength="6.6" lengthAdjust="spacingAndGlyphs" fill="#3e5b88" stroke="#3e5b88">17</text>
<text x="270.6" y="457.7" font-size="6.8" textLength="6.6" lengthAdjust="spacingAndGlyphs" fill="#3e5b88" stroke="#3e5b88">69</text>
<line x1="220.1" y1="441.4" x2="220.1" y2="330.4" stroke="#222" stroke-width="0.9"/>
<path d="M220.1,325.9 L217.9,330.9 L222.3,330.9 Z" fill="#222"/>
<text transform="translate(223.2,451.5) rotate(-90)" x="0" y="0" font-size="9.2" text-anchor="middle" textLength="17.4" lengthAdjust="spacingAndGlyphs" fill="#1a1a1a" stroke="#1a1a1a">Ki67</text>
<text x="237.2" y="479.9" font-size="9.2" textLength="6.7" lengthAdjust="spacingAndGlyphs" fill="#1a1a1a" stroke="#1a1a1a">PI</text>
<line x1="246" y1="477.2" x2="294.6" y2="477.2" stroke="#222" stroke-width="0.9"/>
<path d="M299.3,477.2 L294.1,474.9 L294.1,479.5 Z" fill="#222"/>
<text x="322.7" y="310.2" font-size="11.2" textLength="7.4" lengthAdjust="spacingAndGlyphs" fill="#1a1a1a" stroke="#1a1a1a">H</text>
<rect x="401.9" y="313" width="13.4" height="7.4" fill="#a13444" stroke="#8c1f33" stroke-width="0.6"/>
<rect x="401.9" y="325.5" width="13.4" height="7.5" fill="#4a6084" stroke="#34496b" stroke-width="0.6"/>
<text x="418.1" y="318.8" font-size="7" textLength="21.8" lengthAdjust="spacingAndGlyphs" fill="#1a1a1a" stroke="#1a1a1a" font-weight="bold">control</text>
<text x="418.1" y="331.6" font-size="7.4" textLength="11.3" lengthAdjust="spacingAndGlyphs" fill="#1a1a1a" stroke="#1a1a1a" font-weight="bold">Eng</text>
<text x="429.7" y="328.3" font-size="4.59" textLength="6.9" lengthAdjust="spacingAndGlyphs" fill="#1a1a1a" stroke="#1a1a1a" font-weight="bold">fl/&#916;</text>
<text x="436.8" y="331.6" font-size="7.4" textLength="28.3" lengthAdjust="spacingAndGlyphs" fill="#1a1a1a" stroke="#1a1a1a" font-weight="bold">;Mx1-Cre</text>
<text x="465.4" y="328.3" font-size="4.59" textLength="1.8" lengthAdjust="spacingAndGlyphs" fill="#1a1a1a" stroke="#1a1a1a" font-weight="bold">+</text>
<line x1="354.8" y1="324" x2="354.8" y2="466.7" stroke="#333" stroke-width="1.35"/>
<line x1="354.3" y1="466.2" x2="466.3" y2="466.2" stroke="#333" stroke-width="1.35"/>
<line x1="352" y1="327.4" x2="354.8" y2="327.4" stroke="#333" stroke-width="1"/>
<text x="349" y="329.7" font-size="7.8" textLength="11.6" lengthAdjust="spacingAndGlyphs" text-anchor="end" fill="#1a1a1a" stroke="#1a1a1a">100</text>
<line x1="352" y1="362.6" x2="354.8" y2="362.6" stroke="#333" stroke-width="1"/>
<text x="349" y="364.9" font-size="7.8" textLength="7.6" lengthAdjust="spacingAndGlyphs" text-anchor="end" fill="#1a1a1a" stroke="#1a1a1a">75</text>
<line x1="352" y1="397.4" x2="354.8" y2="397.4" stroke="#333" stroke-width="1"/>
<text x="349" y="399.7" font-size="7.8" textLength="7.6" lengthAdjust="spacingAndGlyphs" text-anchor="end" fill="#1a1a1a" stroke="#1a1a1a">50</text>
<line x1="352" y1="432" x2="354.8" y2="432" stroke="#333" stroke-width="1"/>
<text x="349" y="434.3" font-size="7.8" textLength="7.6" lengthAdjust="spacingAndGlyphs" text-anchor="end" fill="#1a1a1a" stroke="#1a1a1a">25</text>
<text transform="translate(330.2,389.7) rotate(-90)" x="0" y="0" font-size="9" text-anchor="middle" textLength="73.8" lengthAdjust="spacingAndGlyphs" fill="#1a1a1a" stroke="#1a1a1a">Frequency in HSCs</text>
<text x="367.2" y="475.8" font-size="8.5" textLength="10.8" lengthAdjust="spacingAndGlyphs" fill="#1a1a1a" stroke="#1a1a1a">G0</text>
<text x="405.4" y="475.8" font-size="8.5" textLength="8.5" lengthAdjust="spacingAndGlyphs" fill="#1a1a1a" stroke="#1a1a1a">G1</text>
<text x="435.8" y="475.8" font-size="8.5" textLength="26.2" lengthAdjust="spacingAndGlyphs" fill="#1a1a1a" stroke="#1a1a1a">S/G2/M</text>
<rect x="360.7" y="349.6" width="12.3" height="116.6" fill="#a13444" stroke="#8c1f33" stroke-width="0.5"/>
<line x1="366.85" y1="345.5" x2="366.85" y2="350.1" stroke="#222" stroke-width="0.8"/>
<line x1="363.85" y1="345.5" x2="369.85" y2="345.5" stroke="#222" stroke-width="0.9"/>
<circle cx="364.9" cy="342.4" r="1.5" fill="#111" stroke="#111" stroke-width="0.3"/>
<circle cx="368.4" cy="340.2" r="1.5" fill="#111" stroke="#111" stroke-width="0.3"/>
<circle cx="366.5" cy="349.2" r="1.5" fill="#111" stroke="#111" stroke-width="0.3"/>
<circle cx="364.9" cy="357" r="1.5" fill="#111" stroke="#111" stroke-width="0.3"/>
<circle cx="368.6" cy="356.7" r="1.5" fill="#111" stroke="#111" stroke-width="0.3"/>
<rect x="373" y="371.8" width="12.1" height="94.4" fill="#4a6084" stroke="#34496b" stroke-width="0.5"/>
<line x1="379.05" y1="364.7" x2="379.05" y2="372.3" stroke="#222" stroke-width="0.8"/>
<line x1="376.05" y1="364.7" x2="382.05" y2="364.7" stroke="#222" stroke-width="0.9"/>
<circle cx="377.3" cy="355.4" r="1.5" fill="#e2e2e2" stroke="#b0b0b0" stroke-width="0.4"/>
<circle cx="381.1" cy="359.5" r="1.5" fill="#e2e2e2" stroke="#b0b0b0" stroke-width="0.4"/>
<circle cx="378.9" cy="367.4" r="1.5" fill="#e2e2e2" stroke="#b0b0b0" stroke-width="0.4"/>
<circle cx="378.9" cy="384.5" r="1.5" fill="#e2e2e2" stroke="#b0b0b0" stroke-width="0.4"/>
<circle cx="378.9" cy="389.5" r="1.5" fill="#e2e2e2" stroke="#b0b0b0" stroke-width="0.4"/>
<rect x="397.8" y="454.1" width="12.4" height="12.1" fill="#a13444" stroke="#8c1f33" stroke-width="0.5"/>
<line x1="404" y1="450.5" x2="404" y2="454.6" stroke="#222" stroke-width="0.8"/>
<line x1="401" y1="450.5" x2="407" y2="450.5" stroke="#222" stroke-width="0.9"/>
<circle cx="402.1" cy="446" r="1.5" fill="#111" stroke="#111" stroke-width="0.3"/>
<circle cx="405.8" cy="445.8" r="1.5" fill="#111" stroke="#111" stroke-width="0.3"/>
<circle cx="402.3" cy="455.2" r="1.5" fill="#111" stroke="#111" stroke-width="0.3"/>
<circle cx="405.8" cy="458.1" r="1.5" fill="#111" stroke="#111" stroke-width="0.3"/>
<circle cx="404.1" cy="463.9" r="1.5" fill="#111" stroke="#111" stroke-width="0.3"/>
<rect x="410.2" y="449.5" width="12.5" height="16.7" fill="#4a6084" stroke="#34496b" stroke-width="0.5"/>
<line x1="416.45" y1="445.5" x2="416.45" y2="450" stroke="#222" stroke-width="0.8"/>
<line x1="413.45" y1="445.5" x2="419.45" y2="445.5" stroke="#222" stroke-width="0.9"/>
<circle cx="414.5" cy="442.8" r="1.5" fill="#e2e2e2" stroke="#b0b0b0" stroke-width="0.4"/>
<circle cx="418.2" cy="441.1" r="1.5" fill="#e2e2e2" stroke="#b0b0b0" stroke-width="0.4"/>
<circle cx="414.5" cy="450.5" r="1.5" fill="#e2e2e2" stroke="#b0b0b0" stroke-width="0.4"/>
<circle cx="418.2" cy="451.8" r="1.5" fill="#e2e2e2" stroke="#b0b0b0" stroke-width="0.4"/>
<circle cx="416.6" cy="459.9" r="1.5" fill="#e2e2e2" stroke="#b0b0b0" stroke-width="0.4"/>
<rect x="435" y="459" width="12.2" height="7.2" fill="#a13444" stroke="#8c1f33" stroke-width="0.5"/>
<line x1="441.1" y1="455.2" x2="441.1" y2="459.5" stroke="#222" stroke-width="0.8"/>
<line x1="438.1" y1="455.2" x2="444.1" y2="455.2" stroke="#222" stroke-width="0.9"/>
<circle cx="441.1" cy="447.5" r="1.5" fill="#111" stroke="#111" stroke-width="0.3"/>
<circle cx="439.1" cy="458.6" r="1.5" fill="#111" stroke="#111" stroke-width="0.3"/>
<circle cx="444.5" cy="458.6" r="1.5" fill="#111" stroke="#111" stroke-width="0.3"/>
<circle cx="443.1" cy="461.9" r="1.5" fill="#111" stroke="#111" stroke-width="0.3"/>
<circle cx="439.8" cy="466.2" r="1.5" fill="#111" stroke="#111" stroke-width="0.3"/>
<rect x="447.2" y="441.1" width="12.5" height="25.1" fill="#4a6084" stroke="#34496b" stroke-width="0.5"/>
<line x1="453.45" y1="433" x2="453.45" y2="441.6" stroke="#222" stroke-width="0.8"/>
<line x1="450.45" y1="433" x2="456.45" y2="433" stroke="#222" stroke-width="0.9"/>
<circle cx="451.3" cy="425.5" r="1.5" fill="#e2e2e2" stroke="#b0b0b0" stroke-width="0.4"/>
<circle cx="455.3" cy="428" r="1.5" fill="#e2e2e2" stroke="#b0b0b0" stroke-width="0.4"/>
<circle cx="453.2" cy="451.8" r="1.5" fill="#e2e2e2" stroke="#b0b0b0" stroke-width="0.4"/>
<circle cx="453.2" cy="463.5" r="1.5" fill="#e2e2e2" stroke="#b0b0b0" stroke-width="0.4"/>
<line x1="366.3" y1="334.4" x2="380.3" y2="334.4" stroke="#222" stroke-width="0.8"/>
<line x1="366.3" y1="333" x2="366.3" y2="335.8" stroke="#222" stroke-width="0.7"/>
<line x1="380.3" y1="333" x2="380.3" y2="335.8" stroke="#222" stroke-width="0.7"/>
<text x="371.75" y="333.9" font-size="5.8" text-anchor="middle" fill="#333" stroke="#333">*</text>
<text x="374.85" y="333.9" font-size="5.8" text-anchor="middle" fill="#333" stroke="#333">*</text>
<line x1="440.5" y1="418.8" x2="453.3" y2="418.8" stroke="#222" stroke-width="0.8"/>
<line x1="440.5" y1="417.4" x2="440.5" y2="420.2" stroke="#222" stroke-width="0.7"/>
<line x1="453.3" y1="417.4" x2="453.3" y2="420.2" stroke="#222" stroke-width="0.7"/>
<text x="446.9" y="418.3" font-size="5.8" text-anchor="middle" fill="#333" stroke="#333">*</text>
<rect x="0" y="0" width="520" height="1.1" fill="#5a5a5a"/>
<rect x="0" y="0" width="1.2" height="485" fill="#5a5a5a"/>
<rect x="518.4" y="0" width="1.6" height="485" fill="#4a4a4a"/>
<rect x="0" y="483.7" width="520" height="1.3" fill="#2a2a2a"/>
</svg></body></html>
